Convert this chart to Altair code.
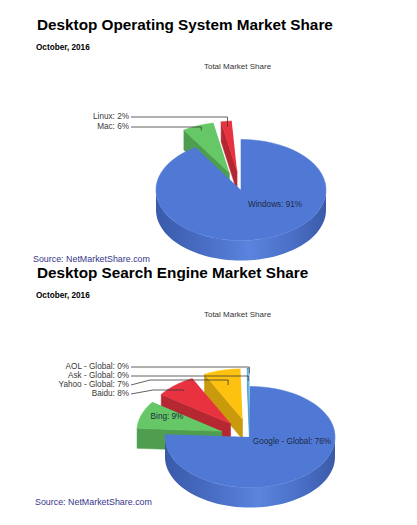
import altair as alt
import pandas as pd

# ---------------- data ----------------
os_labels = ["Windows", "Mac", "Linux"]
os_values = [91.0, 6.0, 2.0]

se_labels = ["Google - Global", "Bing", "Baidu", "Yahoo - Global", "Ask - Global", "AOL - Global"]
se_values = [75.9, 8.9, 7.8, 7.0, 0.2, 0.2]

titles = ["Desktop Operating System Market Share", "Desktop Search Engine Market Share"]
subtitle = "October, 2016"
pie_title = "Total Market Share"
source = "Source: NetMarketShare.com"

# ---------------- layout / style ----------------
W, H = 417, 525
RX, RY, DEPTH = 85, 50.5, 20
FONT = "Liberation Sans"

TOP = {"Windows": "#5079d6", "Google - Global": "#5079d6",
       "Mac": "#66c766", "Bing": "#66c766",
       "Linux": "#e8323f", "Baidu": "#e8323f",
       "Yahoo - Global": "#fdc20f",
       "Ask - Global": "#64b5de", "AOL - Global": "#a6d6ee"}
WALL = {"Windows": "#4262b8", "Google - Global": "#4262b8",
        "Mac": "#4f9d4f", "Bing": "#4f9d4f",
        "Linux": "#b52731", "Baidu": "#b52731",
        "Yahoo - Global": "#c99a0b",
        "Ask - Global": "#3f8fbf", "AOL - Global": "#7fb8d8"}
EXPLODE = {"Mac": 0.37, "Linux": 0.37, "Bing": 0.35, "Baidu": 0.35,
           "Yahoo - Global": 0.36, "Ask - Global": 0.36, "AOL - Global": 0.36}
# inside labels: centre position
INSIDE = {"Windows": (275, 205), "Google - Global": (292, 442), "Bing": (167, 417)}
# outside labels: label y, knee x, knee y, radial fraction of leader end
OUTSIDE = {"Linux": (117, 131, 117, 0.9), "Mac": (127, 131, 127, 0.9),
           "AOL - Global": (367, 131, 367, 0.9), "Ask - Global": (376, 131, 376, 0.75),
           "Yahoo - Global": (385, 150, 380, 0.7), "Baidu": (394, 153, 390, 0.85)}

PIES = [
    dict(labels=os_labels, values=os_values, cx=241, cy=190, dy=0,
         order=["Linux", "Mac", "Windows"]),
    dict(labels=se_labels, values=se_values, cx=250, cy=437, dy=248,
         order=["AOL - Global", "Ask - Global", "Yahoo - Global", "Baidu", "Bing", "Google - Global"]),
]

XS = alt.Scale(domain=[0, W], range=[0, W], nice=False, zero=False)
YS = alt.Scale(domain=[0, H], range=[0, H], nice=False, zero=False)


def X(f):
    return alt.X(f, type="quantitative", scale=XS, axis=None)


def Y(f):
    return alt.Y(f, type="quantitative", scale=YS, axis=None)


SIDE_GRAD = alt.LinearGradient(
    gradient="linear", x1=0, x2=1, y1=0, y2=0,
    stops=[alt.GradientStop(color="#3a5aa9", offset=0),
           alt.GradientStop(color="#4a6fc6", offset=0.3),
           alt.GradientStop(color="#5a84de", offset=0.55),
           alt.GradientStop(color="#4a6fc6", offset=0.8),
           alt.GradientStop(color="#3b5ba9", offset=1)])


def make_df(labels, values):
    rows = []
    for i, (l, v) in enumerate(zip(labels, values)):
        r = dict(label=l, value=v, idx=i, ex=EXPLODE.get(l, 0.0))
        if l in OUTSIDE:
            r.update(ly=OUTSIDE[l][0], kx=OUTSIDE[l][1], ky=OUTSIDE[l][2], f=OUTSIDE[l][3])
        else:
            r.update(ly=None, kx=None, ky=None, f=None)
        if l in INSIDE:
            r.update(ix=INSIDE[l][0], iy=INSIDE[l][1])
        else:
            r.update(ix=None, iy=None)
        rows.append(r)
    return pd.DataFrame(rows)


def pie_layers(p):
    df = make_df(p["labels"], p["values"])
    cx, cy = p["cx"], p["cy"]
    base = (alt.Chart(df)
            .transform_window(cum="sum(value)", sort=[alt.SortField("idx")], frame=[None, 0])
            .transform_calculate(a0="2*PI*(datum.cum-datum.value)/100")
            .transform_calculate(a1="2*PI*datum.cum/100")
            .transform_calculate(mid="(datum.a0+datum.a1)/2")
            .transform_calculate(ox=f"{cx}+datum.ex*{RX}*sin(datum.mid)")
            .transform_calculate(oy=f"{cy}-datum.ex*{RY}*cos(datum.mid)"))
    layers = []
    for lab in p["order"]:
        b = base.transform_filter(alt.datum.label == lab)
        # outer (front) wall
        outer = (b.transform_calculate(w0="max(datum.a0, PI/2)")
                 .transform_calculate(w1="min(datum.a1, 3*PI/2)")
                 .transform_filter("datum.w1 > datum.w0")
                 .transform_calculate(seq="sequence(0, 61)")
                 .transform_flatten(["seq"], as_=["k"])
                 .transform_calculate(ang="datum.w0+(datum.w1-datum.w0)*datum.k/60")
                 .transform_calculate(px=f"datum.ox+{RX}*sin(datum.ang)")
                 .transform_calculate(py=f"datum.oy-{RY}*cos(datum.ang)")
                 .transform_calculate(py2=f"datum.py+{DEPTH}"))
        if lab in ("Windows", "Google - Global"):
            outer = outer.mark_area(fill=SIDE_GRAD)
        else:
            outer = outer.mark_area(fill=WALL[lab])
        outer = outer.encode(x=X("px"), y=Y("py"), y2="py2:Q")
        # radial wall at start edge (visible when facing viewer)
        wall0 = (b.transform_filter("sin(datum.a0) < -0.001")
                 .transform_calculate(seq="sequence(0, 2)")
                 .transform_flatten(["seq"], as_=["k"])
                 .transform_calculate(px=f"datum.ox+datum.k*{RX}*sin(datum.a0)")
                 .transform_calculate(py=f"datum.oy-datum.k*{RY}*cos(datum.a0)")
                 .transform_calculate(py2=f"datum.py+{DEPTH}")
                 .mark_area(fill=WALL[lab], stroke=WALL[lab], strokeWidth=0.5)
                 .encode(x=X("px"), y=Y("py"), y2="py2:Q"))
        # radial wall at end edge
        wall1 = (b.transform_filter("sin(datum.a1) > 0.001")
                 .transform_calculate(seq="sequence(0, 2)")
                 .transform_flatten(["seq"], as_=["k"])
                 .transform_calculate(px=f"datum.ox+datum.k*{RX}*sin(datum.a1)")
                 .transform_calculate(py=f"datum.oy-datum.k*{RY}*cos(datum.a1)")
                 .transform_calculate(py2=f"datum.py+{DEPTH}")
                 .mark_area(fill=WALL[lab], stroke=WALL[lab], strokeWidth=0.5)
                 .encode(x=X("px"), y=Y("py"), y2="py2:Q"))
        # top face
        top = (b.transform_calculate(seq="sequence(-1, 61)")
               .transform_flatten(["seq"], as_=["k"])
               .transform_calculate(ang="datum.a0+(datum.a1-datum.a0)*max(datum.k,0)/60")
               .transform_calculate(px=f"datum.k<0 ? datum.ox : datum.ox+{RX}*sin(datum.ang)")
               .transform_calculate(py=f"datum.k<0 ? datum.oy : datum.oy-{RY}*cos(datum.ang)")
               .mark_line(fill=TOP[lab], stroke=TOP[lab], strokeWidth=0.6)
               .encode(x=X("px"), y=Y("py"), order="k:Q"))
        layers += [outer, wall0, wall1, top]

    # leader lines
    lead = (base.transform_filter("datum.ly != null")
            .transform_calculate(exx=f"datum.ox+datum.f*{RX}*sin(datum.mid)")
            .transform_calculate(eyy=f"datum.oy-datum.f*{RY}*cos(datum.mid)")
            .transform_calculate(seq="sequence(0, 4)")
            .transform_flatten(["seq"], as_=["k"])
            .transform_calculate(px="datum.k==0 ? 131 : (datum.k==1 ? datum.kx : datum.exx)")
            .transform_calculate(py="datum.k==0 ? datum.ly : (datum.k<=2 ? datum.ky : datum.eyy)")
            .mark_line(stroke="#3a3a3a", strokeWidth=0.8)
            .encode(x=X("px"), y=Y("py"), order="k:Q", detail="label:N"))
    out_txt = (base.transform_filter("datum.ly != null")
               .transform_calculate(txt="datum.label + ': ' + format(datum.value, '.0f') + '%'")
               .mark_text(align="right", baseline="middle", font=FONT, fontSize=8.2, color="#3a3a3a")
               .encode(x=alt.value(129), y=Y("ly"), text="txt:N"))
    in_txt = (base.transform_filter("datum.ix != null")
              .transform_calculate(txt="datum.label + ': ' + format(datum.value, '.0f') + '%'")
              .mark_text(align="center", baseline="middle", font=FONT, fontSize=8.2, color="#1e2a44")
              .encode(x=X("ix"), y=Y("iy"), text="txt:N"))
    layers += [lead, out_txt, in_txt]

    dy = p["dy"]
    k = PIES.index(p)

    def txt(t, x, y, size, weight="normal", color="#000000", align="left"):
        return (alt.Chart(pd.DataFrame({"t": [t]}))
                .mark_text(align=align, baseline="alphabetic", font=FONT, fontSize=size,
                           fontWeight=weight, color=color)
                .encode(x=alt.value(x), y=alt.value(y), text="t:N"))

    layers += [
        txt(titles[k], 37, 29.5 + dy, 15.3, "bold"),
        txt(subtitle, 36, 49.5 + dy, 8.2, "bold"),
        txt(pie_title, 237.5, 69 + dy, 8, color="#333333", align="center"),
        txt(source, 33 + 2 * k, 262 + dy * 0.98, 8.9, color="#35358a"),
    ]
    return layers


all_layers = []
for p in PIES:
    all_layers += pie_layers(p)

chart = (alt.layer(*all_layers)
         .properties(width=W, height=H, padding=0, autosize=alt.AutoSizeParams(type="none"),
                     background="#ffffff")
         .configure_view(stroke=None))

chart.save("out.html", embed_options={"renderer": "svg", "actions": False})
